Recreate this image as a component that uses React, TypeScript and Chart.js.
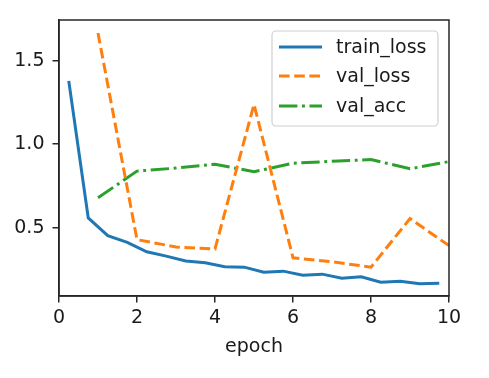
import React, { useEffect, useRef } from "react";
import { Chart, registerables } from "chart.js";

Chart.register(...registerables);

const trainEpochs = [0.25, 0.75, 1.25, 1.75, 2.25, 2.75, 3.25, 3.75, 4.25, 4.75, 5.25, 5.75, 6.25, 6.75, 7.25, 7.75, 8.25, 8.75, 9.25, 9.75];
const trainLoss = [1.38, 0.558, 0.452, 0.412, 0.355, 0.329, 0.300, 0.289, 0.265, 0.263, 0.233, 0.239, 0.215, 0.221, 0.197, 0.205, 0.173, 0.179, 0.163, 0.167];
const valEpochs = [1, 2, 3, 4, 5, 6, 7, 8, 9, 10];
const valLoss = [1.667, 0.428, 0.384, 0.372, 1.239, 0.319, 0.295, 0.263, 0.554, 0.392];
const valAcc = [0.679, 0.839, 0.857, 0.880, 0.835, 0.886, 0.898, 0.908, 0.853, 0.896];
const yTicks = [0.5, 1.0, 1.5];
const xTicks = [0, 2, 4, 6, 8, 10];
const seriesNames = ["train_loss", "val_loss", "val_acc"];

const FONT = "'DejaVu Sans', sans-serif";
const TEXT = "#1a1a1a";
const SPINE = "#262626";

const framePlugin = {
  id: "frame",
  afterDatasetsDraw(chart: any) {
    const { ctx, chartArea } = chart;
    ctx.save();
    ctx.strokeStyle = SPINE;
    ctx.lineWidth = 1.5;
    ctx.setLineDash([]);
    ctx.strokeRect(chartArea.left, chartArea.top, chartArea.right - chartArea.left, chartArea.bottom - chartArea.top);
    ctx.restore();
  },
};

const legendPlugin = {
  id: "boxLegend",
  afterDraw(chart: any) {
    const { ctx } = chart;
    const x0 = 272, y0 = 31, w = 166, h = 95, r = 4;
    ctx.save();
    ctx.beginPath();
    ctx.moveTo(x0 + r, y0);
    ctx.lineTo(x0 + w - r, y0);
    ctx.arcTo(x0 + w, y0, x0 + w, y0 + r, r);
    ctx.lineTo(x0 + w, y0 + h - r);
    ctx.arcTo(x0 + w, y0 + h, x0 + w - r, y0 + h, r);
    ctx.lineTo(x0 + r, y0 + h);
    ctx.arcTo(x0, y0 + h, x0, y0 + h - r, r);
    ctx.lineTo(x0, y0 + r);
    ctx.arcTo(x0, y0, x0 + r, y0, r);
    ctx.closePath();
    ctx.fillStyle = "rgba(255,255,255,0.8)";
    ctx.fill();
    ctx.strokeStyle = "#d0d0d0";
    ctx.lineWidth = 1.2;
    ctx.stroke();
    const rows = [47, 76, 106];
    chart.data.datasets.forEach((ds: any, i: number) => {
      ctx.beginPath();
      ctx.strokeStyle = ds.borderColor;
      ctx.lineWidth = ds.borderWidth;
      ctx.setLineDash(ds.borderDash || []);
      ctx.lineCap = "butt";
      ctx.moveTo(279, rows[i]);
      ctx.lineTo(322, rows[i]);
      ctx.stroke();
      ctx.setLineDash([]);
      ctx.fillStyle = TEXT;
      ctx.font = `19px ${FONT}`;
      ctx.textBaseline = "middle";
      ctx.textAlign = "left";
      ctx.fillText(ds.label, 336, rows[i] + 1);
    });
    ctx.restore();
  },
};

export default function App() {
  const ref = useRef<HTMLCanvasElement>(null);
  useEffect(() => {
    if (!ref.current) return;
    const chart = new Chart(ref.current, {
      type: "line",
      data: {
        datasets: [
          {
            label: seriesNames[0],
            data: trainEpochs.map((x, i) => ({ x, y: trainLoss[i] })),
            borderColor: "#1f77b4",
            borderWidth: 3,
            pointRadius: 0,
            tension: 0,
          },
          {
            label: seriesNames[1],
            data: valEpochs.map((x, i) => ({ x, y: valLoss[i] })),
            borderColor: "#ff7f0e",
            borderWidth: 3,
            borderDash: [10.6, 4.6],
            pointRadius: 0,
            tension: 0,
          },
          {
            label: seriesNames[2],
            data: valEpochs.map((x, i) => ({ x, y: valAcc[i] })),
            borderColor: "#2ca02c",
            borderWidth: 3,
            borderDash: [18.4, 4.6, 2.9, 4.6],
            pointRadius: 0,
            tension: 0,
          },
        ],
      },
      options: {
        animation: false,
        responsive: false,
        devicePixelRatio: 1,
        layout: { padding: { left: 0, top: 20, right: 40, bottom: 20 } },
        plugins: { legend: { display: false }, tooltip: { enabled: false } },
        scales: {
          x: {
            type: "linear",
            min: 0,
            max: 10,
            afterBuildTicks: (s: any) => {
              s.ticks = xTicks.map((v) => ({ value: v }));
            },
            afterFit: (s: any) => {
              s.height = 62;
            },
            grid: { display: true, drawOnChartArea: false, drawTicks: true, tickLength: 6.5, color: SPINE, lineWidth: 1.5 },
            border: { display: true, color: SPINE, width: 1.5 },
            ticks: { font: { family: FONT, size: 19 }, color: TEXT, padding: 4, maxRotation: 0 },
            title: { display: true, text: "epoch", font: { family: FONT, size: 19 }, color: TEXT, padding: { top: 2, bottom: 0 } },
          },
          y: {
            type: "linear",
            min: 0.09,
            max: 1.745,
            afterBuildTicks: (s: any) => {
              s.ticks = yTicks.map((v) => ({ value: v }));
            },
            afterFit: (s: any) => {
              s.width = 59;
            },
            grid: { display: true, drawOnChartArea: false, drawTicks: true, tickLength: 6.5, color: SPINE, lineWidth: 1.5 },
            border: { display: true, color: SPINE, width: 1.5 },
            ticks: { font: { family: FONT, size: 19 }, color: TEXT, padding: 8, callback: (v: any) => Number(v).toFixed(1) },
          },
        },
      },
      plugins: [framePlugin, legendPlugin],
    });
    return () => chart.destroy();
  }, []);
  return (
    <div style={{ position: "fixed", left: 0, top: 0, width: 489, height: 378, background: "#fff" }}>
      <canvas ref={ref} width={489} height={378} style={{ width: 489, height: 378, display: "block" }} />
    </div>
  );
}
